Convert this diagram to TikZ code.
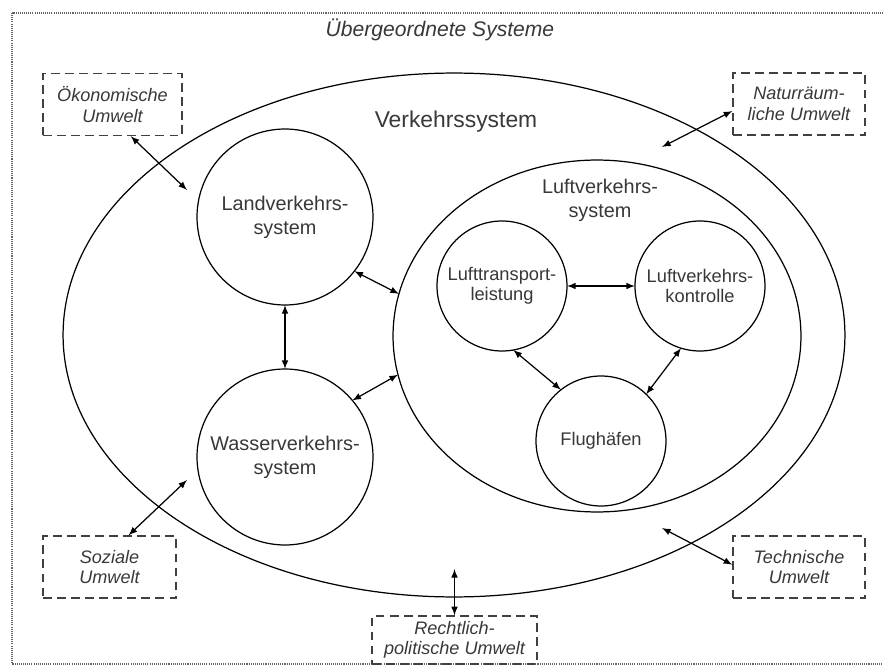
\documentclass[tikz,border=0pt]{standalone}
\usepackage{fontspec}
\setmainfont{Liberation Sans}
\usetikzlibrary{arrows}
\usetikzlibrary{shapes.geometric}

\definecolor{txtgray}{gray}{0.22}

\tikzset{
  umwelt/.style={draw=black!75, line width=0.8pt, dash pattern=on 5pt off 3pt,
    minimum height=1.24cm, inner sep=0pt, align=center, text=txtgray,
    font=\fontsize{10.3}{11.6}\selectfont\itshape},
  subsys/.style={circle, draw, line width=0.7pt, inner sep=0pt, outer sep=0pt,
    minimum size=3.52cm, align=center, text=txtgray,
    font=\fontsize{11.3}{13.6}\selectfont},
  part/.style={circle, draw, line width=0.7pt, inner sep=0pt, outer sep=0pt,
    minimum size=2.6cm, align=center, text=txtgray,
    font=\fontsize{10.4}{11.6}\selectfont},
  link/.style={latex-latex, line width=0.7pt}
}

\begin{document}
\begin{tikzpicture}[x=0.02cm, y=-0.02cm]
\useasboundingbox (0,0) rectangle (883,666);

% outer frame
\draw[black!60, line width=0.6pt, dash pattern=on 0.6pt off 0.6pt] (12,13) rectangle (895,664);
\node (title) at (440,30) {\fontsize{12}{14}\selectfont\itshape\color{txtgray}Übergeordnete Systeme};

% systems
\node[ellipse, draw, line width=0.7pt, inner sep=0pt, outer sep=0pt,
  minimum width=15.64cm, minimum height=10.48cm] (verkehr) at (454,335) {};
\node[text=txtgray, font=\fontsize{13}{15}\selectfont] (verkehrlabel) at (456,122) {Verkehrssystem};

\node[ellipse, draw, line width=0.7pt, inner sep=0pt, outer sep=0pt,
  minimum width=8.16cm, minimum height=7.04cm] (luftsys) at (597,336) {};
\node[text=txtgray, align=center, font=\fontsize{11.3}{13.6}\selectfont] (luftlabel) at (600,200) {Luftverkehrs-\\system};

\node[subsys] (land) at (285,217) {Landverkehrs-\\system};
\node[subsys] (wasser) at (285,457) {Wasserverkehrs-\\system};

\node[part] (lt) at (502,286) {Lufttransport-\\leistung};
\node[part] (lk) at (700,286) {Luftverkehrs-\\kontrolle};
\node[part] (flug) at (601,441) {Flughäfen};

% environment
\node[umwelt, minimum width=2.78cm] (oek) at (112.5,104.5) {Ökonomische\\Umwelt};
\node[umwelt, minimum width=2.64cm] (nat) at (799,104) {Naturräum-\\liche Umwelt};
\node[umwelt, minimum width=2.66cm] (soz) at (109.5,567) {Soziale\\Umwelt};
\node[umwelt, minimum width=2.64cm] (tech) at (799,567) {Technische\\Umwelt};
\node[umwelt, minimum width=3.3cm, minimum height=0.96cm] (recht) at (454.5,640) {Rechtlich-\\politische Umwelt};

\coordinate (oekend) at (187,190);
\coordinate (natend) at (662,147);
\coordinate (sozend) at (187,480);
\coordinate (techend) at (662,528);
\coordinate (rechtend) at (454.5,569);

\draw[link] (oek.-60) -- (oekend);
\draw[link] (nat.186) -- (natend);
\draw[link] (soz.59) -- (sozend);
\draw[link] (tech.178) -- (techend);
\draw[link] (recht.north) -- (rechtend);

\draw[link] (land.south) -- (wasser.north);
\draw[link] (land.-38) -- (luftsys.168);
\draw[link] (wasser.40) -- (luftsys.191);
\draw[link] (lt.east) -- (lk.west);
\draw[link] (lt.-80) -- (flug.128);
\draw[link] (lk.-107) -- (flug.46);
\end{tikzpicture}
\end{document}
